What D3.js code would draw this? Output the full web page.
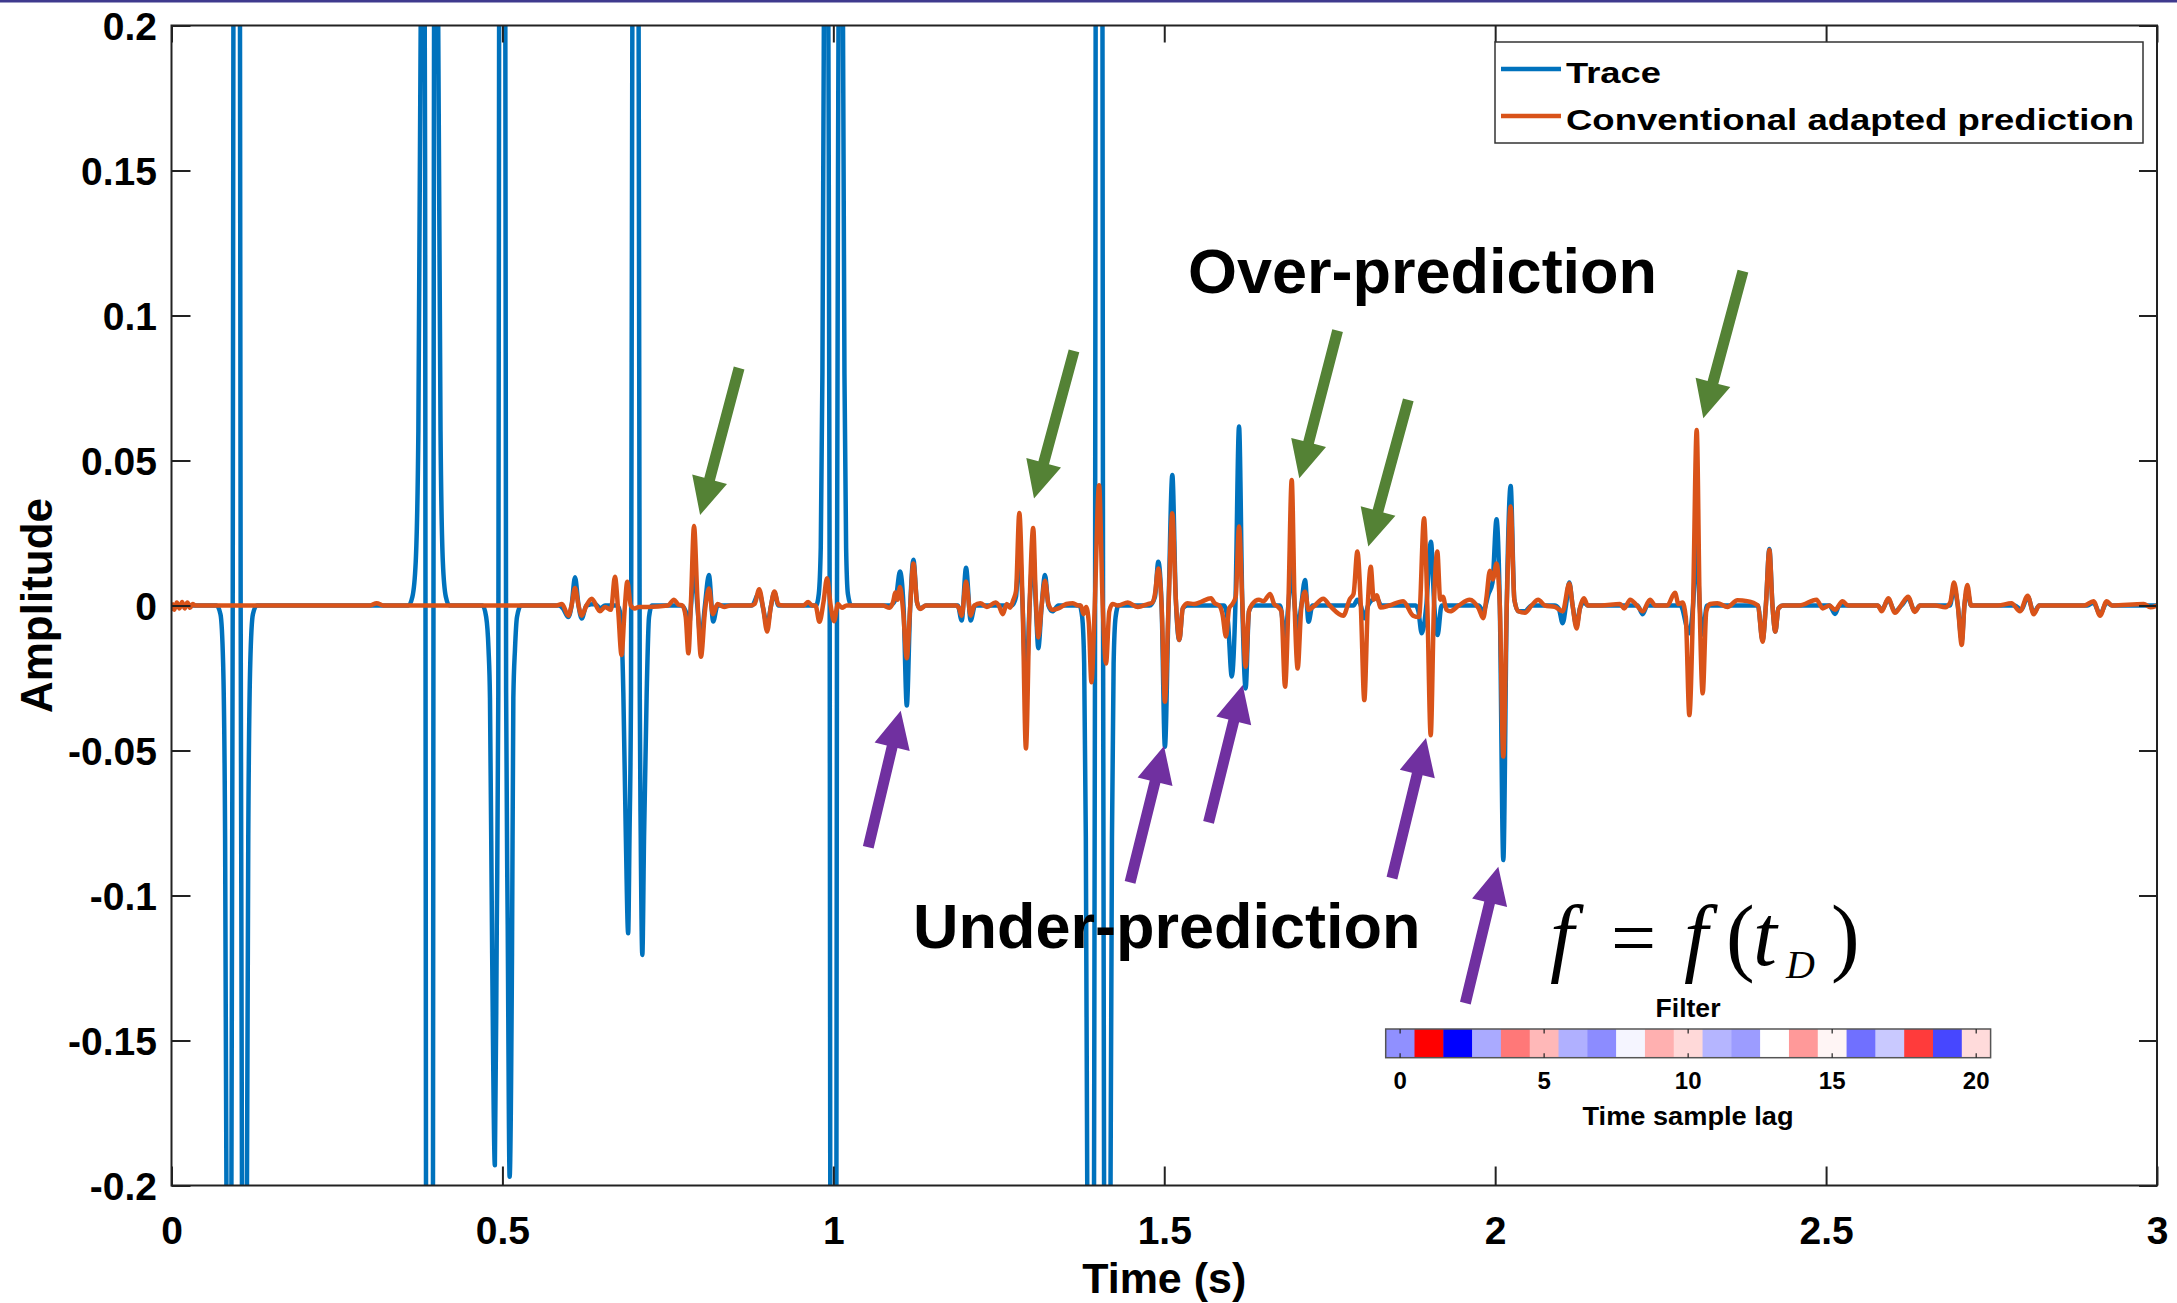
<!DOCTYPE html>
<html><head><meta charset="utf-8">
<script src="https://cdn.jsdelivr.net/npm/d3@7"></script>
<style>html,body{margin:0;padding:0;background:#fff;} svg{display:block;}</style>
</head><body>
<svg id="chart" width="2177" height="1303"></svg>
<script>
// ---------------- DATA ----------------
const seriesNames = ["Trace", "Conventional adapted prediction"];

// Trace: [time (s), amplitude]
const tracePoints = [
[0,0],[0.068,0],[0.074,-0.003],[0.078,-0.02],[0.081,-0.08],[0.0845,-0.3],[0.087,-0.45],[0.0895,-0.3],[0.0925,0],[0.0955,0.6],[0.0985,1.0],[0.1015,0.6],[0.1045,0],[0.1075,-0.3],[0.110,-0.45],[0.1125,-0.3],[0.116,-0.08],[0.119,-0.02],[0.123,-0.003],[0.129,0],
[0.358,0],[0.364,0.003],[0.369,0.015],[0.373,0.06],[0.3765,0.2],[0.3798,0.44],[0.3832,0.15],[0.3856,-0.5],[0.3898,-1.0],[0.394,-0.5],[0.3964,0.15],[0.3998,0.44],[0.403,0.2],[0.4065,0.06],[0.410,0.015],[0.4145,0.003],[0.420,0],
[0.470,0],[0.4755,-0.004],[0.479,-0.015],[0.4812,-0.032],[0.4845,-0.12],[0.4886,-0.193],[0.4915,-0.11],[0.4938,-0.03],[0.4950,0.2],[0.4996,0.43],[0.5044,0.2],[0.5056,-0.03],[0.508,-0.11],[0.5109,-0.197],[0.5145,-0.12],[0.5165,-0.032],[0.519,-0.015],[0.522,-0.004],[0.528,0],
[0.585,0],[0.5915,-0.001],[0.5996,-0.004],[0.6045,0.0],[0.6097,0.0097],[0.615,0.0],[0.6198,-0.0045],[0.627,0.0],[0.64,0.0005],[0.648,-0.001],[0.655,0],
[0.674,0],[0.679,-0.004],[0.6827,-0.03],[0.6865,-0.08],[0.690,-0.113],[0.692,-0.08],[0.6943,-0.03],[0.6963,0.2],[0.7012,0.27],[0.7058,0.2],[0.7075,-0.03],[0.709,-0.08],[0.7114,-0.1205],[0.714,-0.08],[0.718,-0.03],[0.7215,-0.004],[0.726,0],
[0.770,0],[0.777,-0.002],[0.781,-0.009],[0.785,0.0],[0.7895,0.014],[0.7945,0.0],[0.800,-0.012],[0.806,0.0],[0.812,0.0105],[0.8185,-0.0055],[0.825,0.0],
[0.877,0],[0.888,0.0045],[0.894,-0.001],[0.900,-0.007],[0.9055,-0.0005],[0.911,0.0045],[0.917,0],
[0.974,0],[0.978,0.004],[0.981,0.02],[0.9835,0.08],[0.986,0.22],[0.9893,0.44],[0.9925,0.2],[0.9945,0],[0.997,-0.6],[1.0,-1.0],[1.003,-0.6],[1.0055,0],[1.0078,0.2],[1.011,0.44],[1.0143,0.22],[1.0168,0.08],[1.0193,0.02],[1.022,0.004],[1.027,0],
[1.085,0],[1.094,0.002],[1.1007,0.0117],[1.106,0.0],[1.111,-0.0345],[1.116,-0.001],[1.121,0.0158],[1.1265,0.001],[1.131,-0.001],[1.14,0],
[1.188,0],[1.194,-0.0052],[1.2005,0.013],[1.2075,-0.0052],[1.214,0],
[1.27,0],[1.276,0.003],[1.281,0.02],[1.286,0.0],[1.291,-0.03],[1.2965,0.0],[1.302,0.018],[1.306,0.0],[1.3097,-0.0147],[1.3148,0.0],[1.3198,0.0105],[1.325,0.0],[1.331,-0.002],[1.34,0],
[1.372,0],[1.376,-0.004],[1.379,-0.02],[1.3815,-0.08],[1.3845,-0.25],[1.390,-0.45],[1.3935,-0.25],[1.3955,0],[1.398,0.6],[1.4015,1.0],[1.405,0.6],[1.4075,0],[1.4095,-0.25],[1.4125,-0.45],[1.418,-0.25],[1.421,-0.08],[1.4235,-0.02],[1.4265,-0.004],[1.431,0],
[1.478,0],[1.486,0.003],[1.491,0.0151],[1.496,0.0],[1.501,-0.0487],[1.5065,0.0],[1.5122,0.045],[1.5175,0.002],[1.5228,-0.0119],[1.528,-0.001],[1.535,0],
[1.59,0],[1.596,-0.005],[1.602,-0.0245],[1.6075,0.0],[1.613,0.0617],[1.618,0.0],[1.623,-0.0286],[1.628,-0.002],[1.634,0],
[1.675,0],[1.6825,-0.0107],[1.6875,0.0],[1.6926,0.014],[1.697,0.0],[1.7016,-0.008],[1.707,0.0],[1.7127,0.0088],[1.718,-0.0056],[1.724,0],
[1.786,0],[1.7918,0.002],[1.797,0],[1.8023,-0.0044],[1.808,0],[1.812,0.0015],[1.821,0.0025],[1.828,0],
[1.880,0],[1.884,-0.002],[1.889,-0.0096],[1.896,0.0],[1.903,0.022],[1.908,0.0],[1.913,-0.0102],[1.919,0.0],
[1.975,0],[1.982,-0.002],[1.99,0.004],[1.996,0.008],[2.002,0.0297],[2.007,0.0],[2.0123,-0.0878],[2.0175,0.0],[2.0234,0.0412],[2.029,0.002],[2.035,-0.002],[2.045,-0.002],[2.055,0],
[2.09,0],[2.096,-0.001],[2.102,-0.0061],[2.107,0.0],[2.112,0.0079],[2.117,0.0],[2.123,-0.007],[2.128,-0.001],[2.134,0.001],[2.14,0],
[2.215,0],[2.2229,-0.003],[2.23,0],
[2.28,0],[2.2934,-0.0096],[2.299,0],[2.3045,0.0214],[2.309,0],[2.3136,-0.01],[2.32,0],
[2.397,0],[2.404,-0.012],[2.409,0.0],[2.4143,0.0195],[2.419,0.0],[2.4233,-0.009],[2.428,-0.001],[2.435,0],
[2.505,0],[2.5135,-0.0029],[2.52,0],
[2.578,0],[2.584,-0.0015],[2.594,0.002],[2.604,-0.002],[2.614,0],[2.624,0.0025],[2.634,-0.002],[2.642,0],
[2.687,0],[2.6933,0.006],[2.699,0],[2.705,-0.012],[2.709,0],[2.7134,0.005],[2.719,0],
[2.785,0],[2.795,-0.0015],[2.8046,0.003],[2.8138,-0.0025],[2.822,0],
[2.895,0],[2.904,0.001],[2.914,-0.003],[2.924,0.001],[2.932,0],[3.0,0]
];

// Conventional adapted prediction: [time (s), amplitude]
const predictionPoints = [
[0,0.001],[0.004,-0.0015],[0.008,0.001],[0.012,-0.001],[0.016,0.0012],[0.02,-0.001],[0.024,0.001],[0.028,-0.0008],[0.032,0.0005],[0.036,0],
[0.30,0],[0.31,0.0008],[0.32,0],
[0.58,0],[0.59,0.0005],[0.5996,-0.0035],[0.6045,0.0],[0.6097,0.006],[0.615,0.0],[0.6198,-0.0035],[0.627,0],[0.635,0.0023],[0.6474,-0.002],[0.655,-0.0005],
[0.664,-0.0015],[0.670,0.0099],[0.675,-0.002],[0.680,-0.0171],[0.6845,-0.002],[0.6887,0.0082],[0.694,0],[0.700,-0.001],[0.706,-0.0005],[0.72,-0.0005],
[0.750,0],[0.7593,0.002],[0.766,0.0003],[0.772,0.0],[0.777,-0.004],[0.781,-0.0165],[0.785,0.002],[0.7895,0.0274],[0.7945,0.003],[0.800,-0.0177],[0.806,-0.002],[0.812,0.0059],[0.818,-0.003],[0.825,0.0005],[0.835,-0.0005],[0.845,0],
[0.875,0],[0.881,0.0005],[0.888,0.0056],[0.894,-0.001],[0.900,-0.009],[0.9055,-0.0005],[0.911,0.0048],[0.917,0.0003],[0.925,0],
[0.955,0],[0.962,0.0012],[0.968,0],
[0.973,0],[0.979,-0.0056],[0.985,0.001],[0.9905,0.0094],[0.996,0.0],[1.001,-0.0054],[1.007,0.0005],[1.013,-0.0008],[1.02,0],
[1.075,0],[1.085,-0.0008],[1.090,0.001],[1.094,0.0045],[1.097,0.002],[1.1007,0.0064],[1.1055,-0.002],[1.111,-0.0182],[1.116,-0.001],[1.121,0.0145],[1.1265,0.001],[1.131,-0.0012],[1.14,0],
[1.185,0],[1.190,-0.001],[1.194,-0.0035],[1.2005,0.0083],[1.2075,-0.0035],[1.213,0.0],[1.222,0.0008],[1.232,-0.0005],[1.245,0.001],
[1.250,0],[1.256,-0.003],[1.262,0.0005],[1.267,-0.0008],[1.272,0.002],
[1.276,0.005],[1.281,0.0319],[1.286,0.0],[1.291,-0.0493],[1.2965,0.0],[1.302,0.0267],[1.306,0.002],[1.3097,-0.011],[1.3148,0.0],[1.3198,0.0085],[1.325,0.0005],[1.331,-0.0015],[1.34,-0.001],[1.352,0.0005],[1.362,0.0008],[1.37,0],
[1.374,0],[1.378,-0.003],[1.382,-0.0005],[1.386,-0.006],[1.390,-0.0265],[1.395,0.0],[1.4015,0.0415],[1.407,0.0],[1.412,-0.02],[1.417,-0.002],[1.422,0.0005],[1.43,0],
[1.445,0.001],[1.46,-0.0005],[1.475,0.0005],
[1.482,0.001],[1.486,0.004],[1.491,0.0128],[1.496,0.0],[1.501,-0.0332],[1.5065,0.0],[1.5122,0.0318],[1.5175,0.002],[1.5228,-0.0119],[1.528,-0.001],[1.535,0.0008],[1.545,0.0005],[1.555,0.0012],[1.5707,0.0025],[1.576,0.0008],[1.583,0.0],
[1.588,-0.003],[1.5933,-0.0107],[1.598,-0.001],[1.603,0.0005],[1.608,0.003],[1.613,0.0272],[1.618,0.001],[1.623,-0.0211],[1.628,-0.002],[1.633,0.0005],[1.643,0.002],[1.650,0.0015],[1.660,0.004],[1.666,0.0005],[1.672,-0.0005],
[1.677,-0.002],[1.6825,-0.028],[1.6875,0.0],[1.6926,0.0433],[1.697,0.0],[1.7016,-0.0217],[1.707,-0.001],[1.7127,0.0047],[1.718,-0.0015],[1.725,-0.0005],[1.7404,0.0023],[1.750,0.0],[1.7705,-0.0035],[1.7806,0.0023],
[1.786,0.004],[1.7918,0.0186],[1.797,0.0],[1.8023,-0.0326],[1.8075,0.0],[1.812,0.0134],[1.8165,0.002],[1.821,0.0035],[1.827,-0.0007],[1.84,0.0],[1.861,0.0015],[1.876,-0.0035],
[1.885,-0.004],[1.8925,0.0301],[1.8975,0.0],[1.9026,-0.0447],[1.9075,0.0],[1.9126,0.0186],[1.917,0.002],[1.921,0.003],[1.9265,-0.0015],[1.932,-0.002],[1.945,0.0],[1.9615,0.002],[1.975,-0.001],
[1.982,-0.0044],[1.987,0.003],[1.992,0.012],[1.9965,0.009],[2.002,0.0145],[2.007,0.0],[2.0123,-0.0521],[2.0175,0.0],[2.0234,0.0341],[2.029,0.002],[2.035,-0.002],[2.045,-0.0025],[2.055,0.0],[2.065,0.002],
[2.075,0.0],[2.09,-0.0005],[2.102,-0.002],[2.112,0.0076],[2.117,0.0],[2.123,-0.0079],[2.128,-0.001],[2.134,0.0025],[2.14,0.0],[2.16,0.0],[2.1886,0.0005],[2.195,-0.001],[2.204,0.002],[2.213,0.0003],[2.2229,-0.002],[2.234,0.002],[2.242,0.0],[2.26,0.0],
[2.2717,0.0044],[2.277,0.0005],[2.283,0.001],[2.288,-0.004],[2.2934,-0.0378],[2.299,0.0],[2.3045,0.0605],[2.309,0.0],[2.3136,-0.0303],[2.319,-0.002],[2.325,0.0005],[2.3358,0.0008],[2.351,-0.0005],[2.366,0.0018],[2.381,0.0015],
[2.397,0.0],[2.404,-0.0125],[2.409,0.0],[2.4143,0.0191],[2.419,0.0],[2.4233,-0.009],[2.428,-0.001],[2.435,0.0],[2.46,0.0],[2.4855,0.002],[2.495,-0.001],[2.505,0.0],[2.5135,-0.0015],[2.525,0.0015],[2.533,0.0],[2.57,0.0],
[2.578,0.0],[2.584,-0.002],[2.594,0.0025],[2.604,-0.0025],[2.614,0.0003],[2.624,0.003],[2.634,-0.0022],[2.642,0.0],[2.665,0.0],[2.68,-0.0006],[2.6875,0.001],[2.6933,0.0079],[2.699,0.0],[2.705,-0.0136],[2.709,0.0],[2.7134,0.0071],[2.719,0.0],[2.726,0.0],
[2.76,0.0],[2.78,0.0008],[2.793,-0.002],[2.8046,0.0034],[2.8138,-0.003],[2.822,0.0],[2.89,0.0],[2.904,0.0015],[2.914,-0.0035],[2.924,0.0015],[2.932,0.0],[2.98,0.0005],[2.99,-0.0006],[3.0,0.0]
];

const xTicks = [0, 0.5, 1, 1.5, 2, 2.5, 3];
const xTickLabels = ["0", "0.5", "1", "1.5", "2", "2.5", "3"];
const yTicks = [-0.2, -0.15, -0.1, -0.05, 0, 0.05, 0.1, 0.15, 0.2];
const yTickLabels = ["-0.2", "-0.15", "-0.1", "-0.05", "0", "0.05", "0.1", "0.15", "0.2"];

// Filter (colour strip), one value per time-sample lag
const filterLags = [0,1,2,3,4,5,6,7,8,9,10,11,12,13,14,15,16,17,18,19,20];
const filterValues = [-0.435, 1.0, -1.0, -0.333, 0.53, 0.28, -0.31, -0.45, -0.04, 0.31, 0.15, -0.29, -0.39, 0.0, 0.40, 0.04, -0.56, -0.21, 0.77, -0.72, 0.14];
const filterTicks = [0, 5, 10, 15, 20];
const filterTickLabels = ["0", "5", "10", "15", "20"];

// Annotation arrows in data space: tip and tail [time, amplitude]
const overArrows = [
  {tip:[0.7987,0.0312], tail:[0.8576,0.0819]},
  {tip:[1.3032,0.0369], tail:[1.3636,0.0878]},
  {tip:[1.7041,0.0439], tail:[1.7619,0.0948]},
  {tip:[1.8083,0.0203], tail:[1.8688,0.0709]},
  {tip:[2.3145,0.0646], tail:[2.3744,0.1153]}
];
const underArrows = [
  {tip:[1.1018,-0.0363], tail:[1.0527,-0.0834]},
  {tip:[1.4996,-0.0484], tail:[1.4483,-0.0955]},
  {tip:[1.6185,-0.0274], tail:[1.5669,-0.0748]},
  {tip:[1.8955,-0.0457], tail:[1.8441,-0.0940]},
  {tip:[2.0047,-0.0901], tail:[1.9550,-0.1371]}
];

// ---------------- DRAWING ----------------
const FONT = "'Liberation Sans', Arial, Helvetica, sans-serif";
const colors = {trace:"#0072BD", pred:"#D95319", green:"#548235", purple:"#7030A0", axis:"#222222"};
const svg = d3.select("#chart");
const L = 171.5, R = 2157, T = 25.5, B = 1185.5;
const x = d3.scaleLinear().domain([0, 3]).range([L, R]);
const y = d3.scaleLinear().domain([-0.2, 0.2]).range([B, T]);

// top banner line
svg.append("rect").attr("x",0).attr("y",0).attr("width",2177).attr("height",2.5).attr("fill","#3f3a8e");

svg.append("defs").append("clipPath").attr("id","plotclip")
  .append("rect").attr("x",L).attr("y",T).attr("width",R-L).attr("height",B-T);

const line = d3.line().x(d=>x(d[0])).y(d=>y(d[1])).curve(d3.curveMonotoneX);
const plot = svg.append("g").attr("clip-path","url(#plotclip)");
plot.append("path").datum(tracePoints).attr("d",line)
  .attr("fill","none").attr("stroke",colors.trace).attr("stroke-width",4.5).attr("stroke-linejoin","round");
plot.append("path").datum(predictionPoints).attr("d",line)
  .attr("fill","none").attr("stroke",colors.pred).attr("stroke-width",4.5).attr("stroke-linejoin","round");

// axes
const TL = 19;
const gx = svg.append("g").attr("transform",`translate(0,${B})`)
  .call(d3.axisBottom(x).tickValues(xTicks).tickFormat((d,i)=>xTickLabels[i]).tickSizeInner(-TL).tickSizeOuter(0).tickPadding(31));
const gy = svg.append("g").attr("transform",`translate(${L},0)`)
  .call(d3.axisLeft(y).tickValues(yTicks).tickFormat((d,i)=>yTickLabels[i]).tickSizeInner(-TL).tickSizeOuter(0).tickPadding(14.5));
const gxt = svg.append("g").attr("transform",`translate(0,${T})`)
  .call(d3.axisTop(x).tickValues(xTicks).tickFormat("").tickSizeInner(-17).tickSizeOuter(0));
const gyr = svg.append("g").attr("transform",`translate(${R},0)`)
  .call(d3.axisRight(y).tickValues(yTicks).tickFormat("").tickSizeInner(-18).tickSizeOuter(0));
[gx,gy,gxt,gyr].forEach(g=>{
  g.select(".domain").remove();
  g.selectAll(".tick line").attr("stroke",colors.axis).attr("stroke-width",2);
  g.selectAll(".tick text").attr("fill","#000").style("font-family",FONT).style("font-weight","bold").style("font-size","39px");
});
gy.selectAll(".tick text").attr("dy","0.36em");
svg.append("rect").attr("x",L).attr("y",T).attr("width",R-L).attr("height",B-T)
  .attr("fill","none").attr("stroke",colors.axis).attr("stroke-width",2);

// axis titles
svg.append("text").attr("x",(L+R)/2).attr("y",1293).attr("text-anchor","middle")
  .style("font-family",FONT).style("font-weight","bold").style("font-size","43px").text("Time (s)");
svg.append("text").attr("transform",`translate(52,${(T+B)/2}) rotate(-90)`).attr("text-anchor","middle")
  .style("font-family",FONT).style("font-weight","bold").style("font-size","44px").text("Amplitude");

// arrows
function arrowPath(a){
  const P=[x(a.tip[0]),y(a.tip[1])], Q=[x(a.tail[0]),y(a.tail[1])];
  const dx=P[0]-Q[0], dy=P[1]-Q[1], len=Math.hypot(dx,dy);
  const ux=dx/len, uy=dy/len, nx=-uy, ny=ux;
  const sw=11/2, hw=36/2, hl=37;
  const Bx=P[0]-ux*hl, By=P[1]-uy*hl;
  const pts=[[Q[0]+nx*sw,Q[1]+ny*sw],[Bx+nx*sw,By+ny*sw],[Bx+nx*hw,By+ny*hw],P,[Bx-nx*hw,By-ny*hw],[Bx-nx*sw,By-ny*sw],[Q[0]-nx*sw,Q[1]-ny*sw]];
  return "M"+pts.map(p=>p[0].toFixed(1)+","+p[1].toFixed(1)).join("L")+"Z";
}
svg.append("g").selectAll("path").data(overArrows).join("path").attr("d",arrowPath).attr("fill",colors.green);
svg.append("g").selectAll("path").data(underArrows).join("path").attr("d",arrowPath).attr("fill",colors.purple);

// annotation texts
svg.append("text").attr("x",1188).attr("y",293).style("font-family",FONT).style("font-weight","bold").style("font-size","63px").text("Over-prediction");
svg.append("text").attr("x",913).attr("y",948).style("font-family",FONT).style("font-weight","bold").style("font-size","63px").text("Under-prediction");

// formula f = f(t_D)
const SERIF = "'Liberation Serif', 'Times New Roman', serif";
const fg = svg.append("g").style("font-family",SERIF).style("font-size","86px").attr("fill","#000");
fg.append("text").attr("x",1550).attr("y",965).style("font-style","italic").text("f");
fg.append("text").attr("x",1611).attr("y",965).style("font-size","80px").text("=");
fg.append("text").attr("x",1684).attr("y",965).style("font-style","italic").text("f");
fg.append("text").attr("x",1726).attr("y",965).text("(");
fg.append("text").attr("x",1753).attr("y",965).style("font-style","italic").text("t");
fg.append("text").attr("x",1786).attr("y",978).style("font-style","italic").style("font-size","40px").text("D");
fg.append("text").attr("x",1831).attr("y",965).text(")");

// legend
const lg = svg.append("g");
lg.append("rect").attr("x",1495).attr("y",42).attr("width",648).attr("height",101).attr("fill","#fff").attr("stroke","#333").attr("stroke-width",1.5);
const legendRows = [{name:seriesNames[0], color:colors.trace, ly:69, ty:83, w:95},{name:seriesNames[1], color:colors.pred, ly:116, ty:130, w:568}];
legendRows.forEach(r=>{
  lg.append("line").attr("x1",1501).attr("x2",1561).attr("y1",r.ly).attr("y2",r.ly).attr("stroke",r.color).attr("stroke-width",4.5);
  lg.append("text").attr("x",1566).attr("y",r.ty).attr("textLength",r.w).attr("lengthAdjust","spacingAndGlyphs")
    .style("font-family",FONT).style("font-weight","bold").style("font-size","30px").text(r.name);
});

// filter colour strip
const fx = d3.scaleBand().domain(filterLags).range([1385.7, 1990.6]).paddingInner(0).paddingOuter(0);
const fcol = d3.scaleLinear().domain([-1,0,1]).range(["#0000ff","#ffffff","#ff0000"]);
const cb = svg.append("g");
const cbTop = 1029, cbH = 28.7;
cb.selectAll("rect.cell").data(filterLags).join("rect").attr("class","cell")
  .attr("x",d=>fx(d)).attr("y",cbTop).attr("width",fx.bandwidth()+0.5).attr("height",cbH)
  .attr("fill",(d,i)=>fcol(filterValues[i]));
cb.append("rect").attr("x",1385.7).attr("y",cbTop).attr("width",1990.6-1385.7).attr("height",cbH)
  .attr("fill","none").attr("stroke","#555").attr("stroke-width",1.5);
filterTicks.forEach((v,i)=>{
  const cx = fx(v)+fx.bandwidth()/2;
  cb.append("line").attr("x1",cx).attr("x2",cx).attr("y1",cbTop).attr("y2",cbTop+4.5).attr("stroke","#222").attr("stroke-width",1.2);
  cb.append("line").attr("x1",cx).attr("x2",cx).attr("y1",cbTop+cbH-4.5).attr("y2",cbTop+cbH).attr("stroke","#222").attr("stroke-width",1.2);
  cb.append("text").attr("x",cx).attr("y",1089).attr("text-anchor","middle")
    .style("font-family",FONT).style("font-weight","bold").style("font-size","24px").text(filterTickLabels[i]);
});
cb.append("text").attr("x",1688).attr("y",1016.5).attr("text-anchor","middle").attr("textLength",65).attr("lengthAdjust","spacingAndGlyphs")
  .style("font-family",FONT).style("font-weight","bold").style("font-size","25px").text("Filter");
cb.append("text").attr("x",1688).attr("y",1125).attr("text-anchor","middle").attr("textLength",211).attr("lengthAdjust","spacingAndGlyphs")
  .style("font-family",FONT).style("font-weight","bold").style("font-size","25px").text("Time sample lag");
</script></body></html>
